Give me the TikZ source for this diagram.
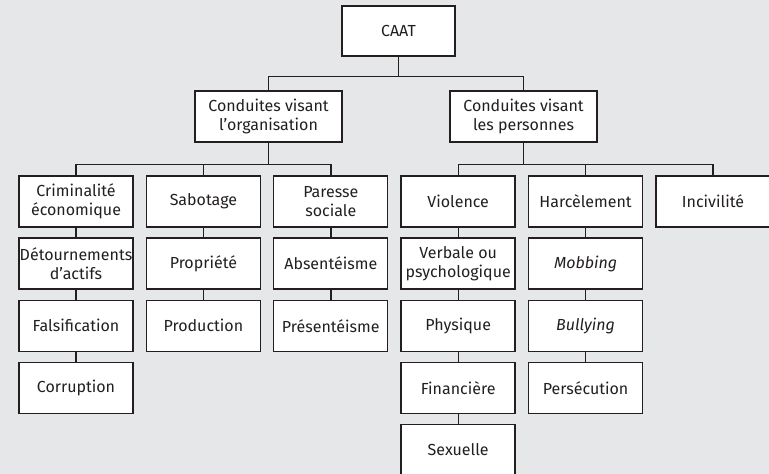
\documentclass[tikz,border=0pt]{standalone}
\usepackage{fontspec}
\setmainfont{Fira Sans}
\usepackage{tikz}
\usetikzlibrary{matrix}
\definecolor{pagegray}{HTML}{E6E7E8}
\definecolor{inkgray}{HTML}{231F20}
\newcommand\catnode[2]{\node[catbox] (#1) {#2};}
\newcommand\joinbox[3][5pt]{\draw (#2.south) -- ++(0,-#1) -| (#3.north);}

\begin{document}
\begin{tikzpicture}
\tikzstyle{catbox}=[draw=inkgray,fill=white,line width=1.4pt,text=inkgray,align=center,
  minimum width=114pt,minimum height=51pt,inner xsep=0.5pt,inner ysep=2pt,
  font=\fontsize{16}{18.5}\selectfont]
\tikzstyle{topbox}=[catbox,minimum width=147pt]
\fill[pagegray] (0,0) rectangle (769pt,-474pt);
\useasboundingbox (0,0) rectangle (769pt,-474pt);
\tikzstyle{every path}=[line width=1.4pt,draw=inkgray]
\node[catbox,minimum width=113pt,minimum height=50pt] (caat) at (398.5pt,-31pt) {CAAT};
\node[topbox] (org) at (268.5pt,-116.5pt) {Conduites visant\\l'organisation};
\node[topbox] (pers) at (523.5pt,-116.5pt) {Conduites visant\\les personnes};
\matrix [anchor=north west,inner sep=0pt,outer sep=0pt,
  column sep={127.4pt,between origins},row sep={62.1pt,between origins}]
  at (18.3pt,-175.3pt)
{
\catnode{crim}{Criminalité\\économique} & \catnode{sabo}{Sabotage} & \catnode{paresse}{Paresse\\sociale} &
  \catnode{viol}{Violence} & \catnode{harc}{Harcèlement} & \catnode{inciv}{Incivilité} \\
\catnode{detour}{Détournements\\d'actifs} & \catnode{propr}{Propriété} & \catnode{absent}{Absentéisme} &
  \catnode{verbal}{Verbale ou\\psychologique} & \catnode{mobb}{\textit{Mobbing}} & \\
\catnode{falsif}{Falsification} & \catnode{prod}{Production} & \catnode{present}{Présentéisme} &
  \catnode{phys}{Physique} & \catnode{bully}{\textit{Bullying}} & \\
\catnode{corrup}{Corruption} & & & \catnode{financ}{Financière} & \catnode{persec}{Persécution} & \\
 & & & \catnode{sexu}{Sexuelle} & & \\
};
\joinbox[20pt]{caat}{org}
\joinbox[20pt]{caat}{pers}
\joinbox[22pt]{org}{crim}
\joinbox[22pt]{org}{sabo}
\joinbox[22pt]{org}{paresse}
\joinbox[22pt]{pers}{viol}
\joinbox[22pt]{pers}{harc}
\joinbox[22pt]{pers}{inciv}
\joinbox{crim}{detour}
\joinbox{detour}{falsif}
\joinbox{falsif}{corrup}
\joinbox{sabo}{propr}
\joinbox{propr}{prod}
\joinbox{paresse}{absent}
\joinbox{absent}{present}
\joinbox{viol}{verbal}
\joinbox{verbal}{phys}
\joinbox{phys}{financ}
\joinbox{financ}{sexu}
\joinbox{harc}{mobb}
\joinbox{mobb}{bully}
\joinbox{bully}{persec}
\end{tikzpicture}
\end{document}
